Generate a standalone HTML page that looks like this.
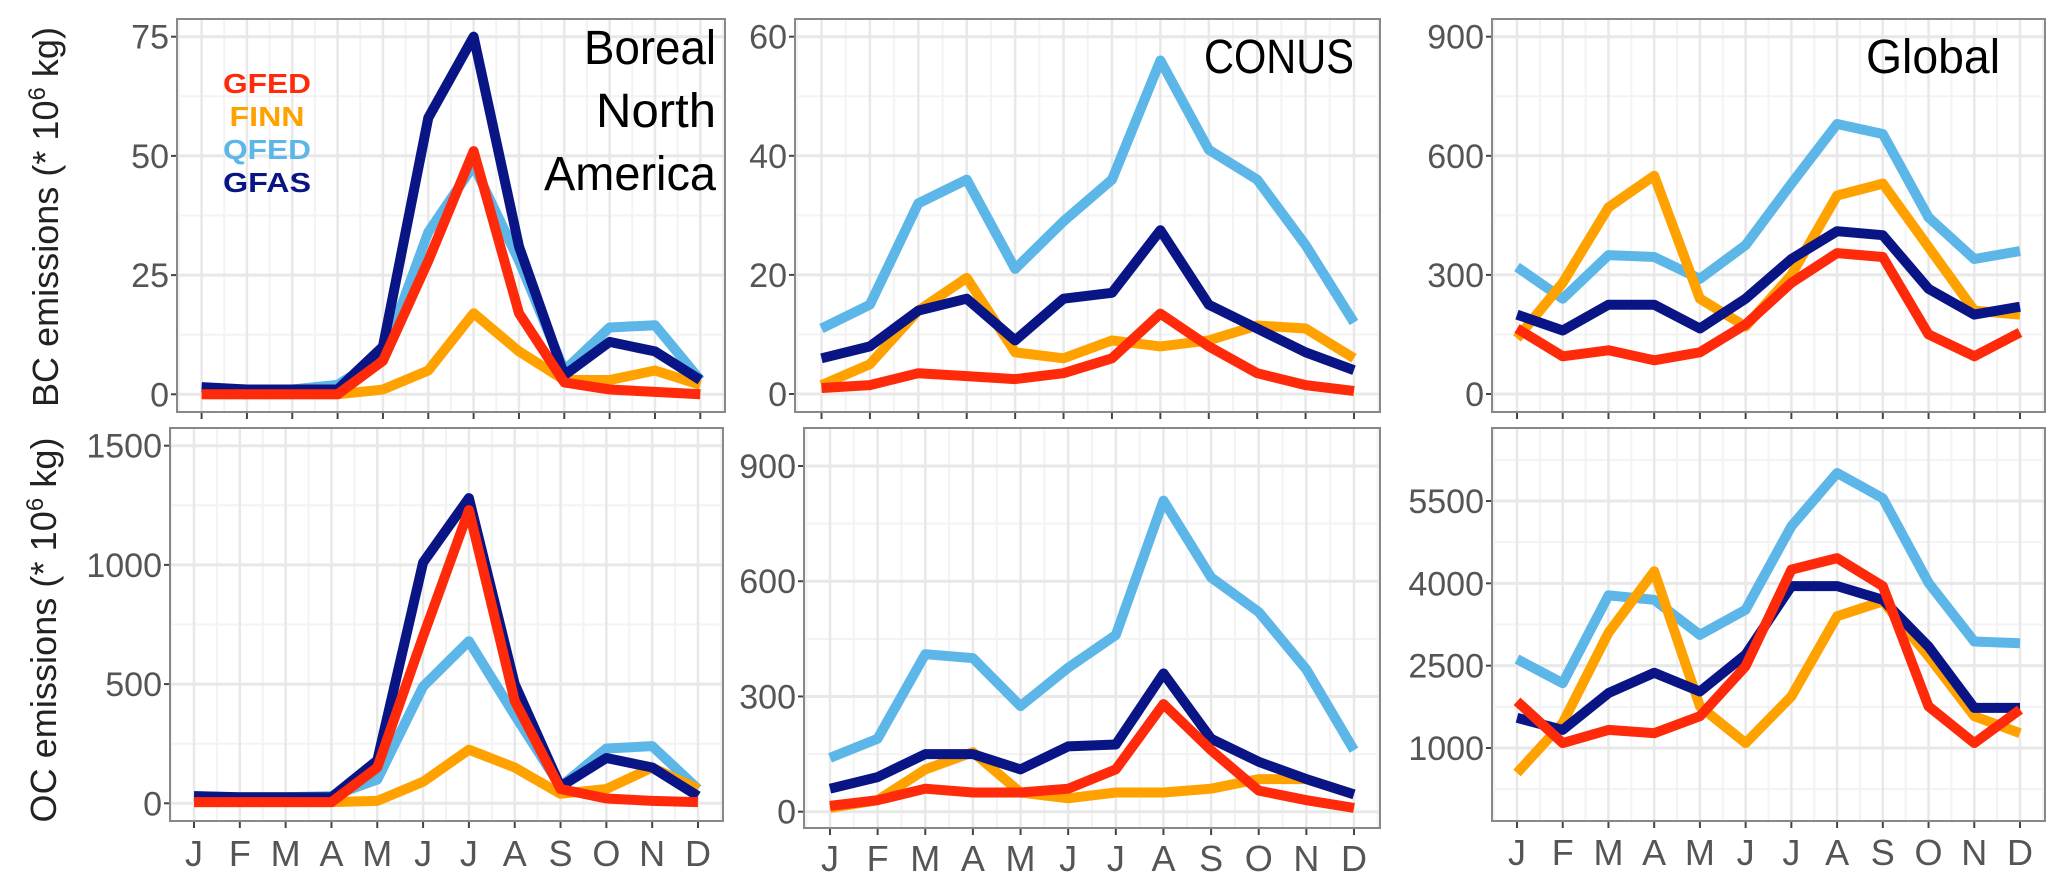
<!DOCTYPE html>
<html><head><meta charset="utf-8"><style>
html,body{margin:0;padding:0;background:#fff;}
svg{display:block;font-family:"Liberation Sans",sans-serif;}
</style></head><body>
<svg id="fig" width="2067" height="891" viewBox="0 0 2067 891" xmlns="http://www.w3.org/2000/svg"></svg>
<script>
const months = ["J","F","M","A","M","J","J","A","S","O","N","D"];
const seriesNames = ["QFED","FINN","GFAS","GFED"];
// BC Boreal North America
const bcBorealQFED = [1,1,1,2,8,34,48,28,5,14,14.5,3];
const bcBorealFINN = [0,0,0,0,1,5,17,9,3,3,5,2];
const bcBorealGFAS = [1.5,1,1,1,10,58,75,31,4,11,9,3];
const bcBorealGFED = [0,0,0,0,7,28,51,17,2.5,1,0.5,0];
const bcBorealTicks = [0,25,50,75];
// BC CONUS
const bcConusQFED = [11,15,32,36,21,29,36,56,41,36,25,12];
const bcConusFINN = [1.5,5,14,19.5,7,6,9,8,9,11.5,11,6];
const bcConusGFAS = [6,8,14,16,9,16,17,27.5,15,11,7,4];
const bcConusGFED = [1,1.5,3.5,3,2.5,3.5,6,13.5,8,3.5,1.5,0.5];
const bcConusTicks = [0,20,40,60];
// BC Global
const bcGlobalQFED = [320,240,350,345,290,375,530,680,655,445,340,360];
const bcGlobalFINN = [140,280,470,550,240,170,300,500,530,370,210,200];
const bcGlobalGFAS = [200,160,225,225,165,240,340,410,400,265,200,220];
const bcGlobalGFED = [165,95,110,85,105,175,280,355,345,150,95,155];
const bcGlobalTicks = [0,300,600,900];
// OC Boreal North America
const ocBorealQFED = [30,25,25,30,100,490,680,370,70,230,240,60];
const ocBorealFINN = [5,5,5,5,10,90,225,150,40,60,150,60];
const ocBorealGFAS = [30,25,25,25,180,1010,1280,500,70,190,150,30];
const ocBorealGFED = [5,5,5,5,150,700,1230,430,60,20,10,5];
const ocBorealTicks = [0,500,1000,1500];
// OC CONUS
const ocConusQFED = [140,190,410,400,275,375,460,810,610,520,370,160];
const ocConusFINN = [10,30,110,155,50,35,50,50,60,85,85,45];
const ocConusGFAS = [60,90,150,150,110,170,175,360,190,130,85,45];
const ocConusGFED = [15,30,60,50,50,60,110,280,160,55,30,10];
const ocConusTicks = [0,300,600,900];
// OC Global
const ocGlobalQFED = [2620,2180,3780,3700,3060,3520,5040,6010,5550,4010,2940,2910];
const ocGlobalFINN = [545,1455,3100,4220,1760,1090,1940,3400,3670,2670,1580,1270];
const ocGlobalGFAS = [1550,1330,2000,2370,2030,2700,3950,3950,3700,2850,1730,1730];
const ocGlobalGFED = [1850,1090,1330,1270,1580,2490,4250,4460,3950,1760,1090,1700];
const ocGlobalTicks = [1000,2500,4000,5500];

const colors = {QFED:"#5cb6e8",FINN:"#ffa200",GFAS:"#0a1585",GFED:"#ff2a0a"};
const NS="http://www.w3.org/2000/svg";
const svg=document.getElementById("fig");
function mk(tag,attrs,parent){const e=document.createElementNS(NS,tag);for(const k in attrs)e.setAttribute(k,attrs[k]);(parent||svg).appendChild(e);return e;}

const panels=[
 {id:"bc-boreal",L:177,R:725,T:19,B:412,v0:0,p0:394.3,v1:75,p1:36.7,xJ:201.6,xD:700.3,ticks:bcBorealTicks,labels:false,
  data:{QFED:bcBorealQFED,FINN:bcBorealFINN,GFAS:bcBorealGFAS,GFED:bcBorealGFED}},
 {id:"bc-conus",L:795,R:1380,T:19,B:412,v0:0,p0:394,v1:60,p1:36.7,xJ:821.5,xD:1354,ticks:bcConusTicks,labels:false,
  data:{QFED:bcConusQFED,FINN:bcConusFINN,GFAS:bcConusGFAS,GFED:bcConusGFED}},
 {id:"bc-global",L:1492,R:2045,T:19,B:412,v0:0,p0:394,v1:900,p1:36.7,xJ:1517,xD:2020,ticks:bcGlobalTicks,labels:false,
  data:{QFED:bcGlobalQFED,FINN:bcGlobalFINN,GFAS:bcGlobalGFAS,GFED:bcGlobalGFED}},
 {id:"oc-boreal",L:170,R:723,T:428,B:821,v0:0,p0:803.3,v1:1500,p1:445.7,xJ:194,xD:698,ticks:ocBorealTicks,labels:true,ly:866,
  data:{QFED:ocBorealQFED,FINN:ocBorealFINN,GFAS:ocBorealGFAS,GFED:ocBorealGFED}},
 {id:"oc-conus",L:804,R:1380,T:428,B:828,v0:0,p0:811.7,v1:900,p1:466,xJ:830,xD:1354,ticks:ocConusTicks,labels:true,ly:871,
  data:{QFED:ocConusQFED,FINN:ocConusFINN,GFAS:ocConusGFAS,GFED:ocConusGFED}},
 {id:"oc-global",L:1492,R:2045,T:428,B:821,v0:1000,p0:748,v1:5500,p1:501,xJ:1517,xD:2020,ticks:ocGlobalTicks,labels:true,ly:865,
  data:{QFED:ocGlobalQFED,FINN:ocGlobalFINN,GFAS:ocGlobalGFAS,GFED:ocGlobalGFED}}
];

panels.forEach(p=>{
  const g=mk("g",{});
  
  
  const y=v=>p.p0+(v-p.v0)*(p.p1-p.p0)/(p.v1-p.v0);
  const x=i=>p.xJ+i*(p.xD-p.xJ)/11;
  const step=p.ticks[1]-p.ticks[0];
  for(let v=p.ticks[0]-step*2+step/2; v<p.ticks[p.ticks.length-1]+step*2; v+=step){
    const yy=y(v); if(yy>p.T&&yy<p.B) mk("line",{x1:p.L,x2:p.R,y1:yy,y2:yy,stroke:"#f3f3f3","stroke-width":2},g);
  }
  for(let i=-0.5;i<12;i+=1){const xx=x(i); if(xx>p.L&&xx<p.R) mk("line",{x1:xx,x2:xx,y1:p.T,y2:p.B,stroke:"#f3f3f3","stroke-width":2},g);}
  months.forEach((m,i)=>mk("line",{x1:x(i),x2:x(i),y1:p.T,y2:p.B,stroke:"#e8e8e8","stroke-width":2.5},g));
  p.ticks.forEach(v=>{
    const yy=y(v);
    mk("line",{x1:p.L,x2:p.R,y1:yy,y2:yy,stroke:"#e8e8e8","stroke-width":3},g);
    mk("line",{x1:p.L-6,x2:p.L,y1:yy,y2:yy,stroke:"#444","stroke-width":2},g);
    const t=mk("text",{x:p.L-8,y:yy+12,"text-anchor":"end","font-size":34,fill:"#555"},g);
    t.textContent=v;
    
    
  });
  months.forEach((m,i)=>{
    mk("line",{x1:x(i),x2:x(i),y1:p.B,y2:p.B+7,stroke:"#444","stroke-width":2},g);
    if(p.labels){
      const t=mk("text",{x:x(i),y:p.ly,"text-anchor":"middle","font-size":36,fill:"#555"},g);
      t.textContent=m;
      
      
    }
  });
  seriesNames.forEach(s=>{
    const pts=p.data[s].map((v,i)=>x(i).toFixed(1)+","+y(v).toFixed(1)).join(" ");
    const l=mk("polyline",{points:pts,fill:"none",stroke:colors[s],"stroke-width":10,"stroke-linejoin":"round"},g);
    
    
  });
  mk("rect",{x:p.L,y:p.T,width:p.R-p.L,height:p.B-p.T,fill:"none",stroke:"#888","stroke-width":2},g);
});
</script>
<svg style="position:absolute;left:0;top:0" width="2067" height="891">
  <g font-family="Liberation Sans, sans-serif" font-size="48" fill="#000" text-anchor="end">
    <text x="716" y="64" textLength="132" lengthAdjust="spacingAndGlyphs">Boreal</text>
    <text x="716" y="127" textLength="120" lengthAdjust="spacingAndGlyphs">North</text>
    <text x="716" y="190" textLength="172" lengthAdjust="spacingAndGlyphs">America</text>
    <text x="1354" y="73" textLength="150" lengthAdjust="spacingAndGlyphs">CONUS</text>
    <text x="2000" y="73" textLength="134" lengthAdjust="spacingAndGlyphs">Global</text>
  </g>
  <g font-family="Liberation Sans, sans-serif" font-size="28" font-weight="bold" text-anchor="middle">
    <text x="267" y="93" fill="#ff2a0a" textLength="88" lengthAdjust="spacingAndGlyphs">GFED</text>
    <text x="267" y="126" fill="#ffa200" textLength="75" lengthAdjust="spacingAndGlyphs">FINN</text>
    <text x="267" y="159" fill="#5cb6e8" textLength="88" lengthAdjust="spacingAndGlyphs">QFED</text>
    <text x="267" y="192" fill="#0a1585" textLength="88" lengthAdjust="spacingAndGlyphs">GFAS</text>
  </g>
  <text transform="translate(58,217) rotate(-90)" text-anchor="middle" font-family="Liberation Sans, sans-serif" font-size="36" fill="#222" textLength="380">BC emissions (* 10<tspan baseline-shift="super" font-size="24">6</tspan> kg)</text>
  <text transform="translate(56,630) rotate(-90)" text-anchor="middle" font-family="Liberation Sans, sans-serif" font-size="36" fill="#222" textLength="385">OC emissions (* 10<tspan baseline-shift="super" font-size="24">6</tspan> kg)</text>
</svg>
</body></html>
